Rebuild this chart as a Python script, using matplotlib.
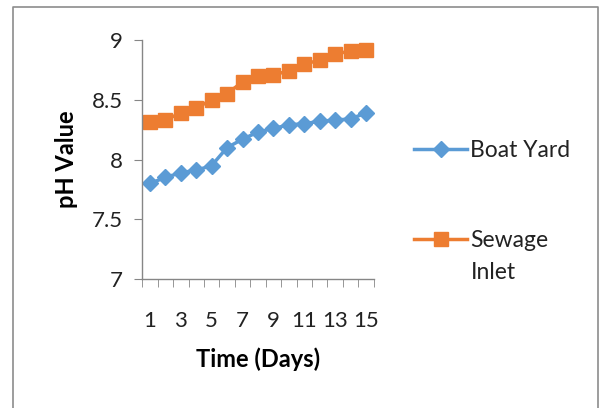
import numpy as np
import matplotlib.pyplot as plt
from matplotlib.lines import Line2D

# data
days = list(range(1, 16))
boat_yard = [7.80, 7.85, 7.89, 7.91, 7.95, 8.10, 8.17, 8.23, 8.26, 8.29,
             8.30, 8.32, 8.33, 8.34, 8.39]
sewage_inlet = [8.31, 8.33, 8.39, 8.43, 8.50, 8.55, 8.65, 8.70, 8.71, 8.74,
                8.80, 8.83, 8.88, 8.91, 8.92]
series_names = ["Boat Yard", "Sewage", "Inlet"]
yticks = [7, 7.5, 8, 8.5, 9]
ytick_labels = ["7", "7.5", "8", "8.5", "9"]

plt.rcParams['font.family'] = ['Lato', 'DejaVu Sans']

fig = plt.figure(figsize=(6, 4.08), dpi=100)
ax = fig.add_axes([0.237, 0.316, 0.386, 0.586])

blue = '#5B9BD5'
orange = '#ED7D31'
ax.plot(days, boat_yard, color=blue, lw=2.5, marker='D', ms=8.5,
        label=series_names[0])
ax.plot(days, sewage_inlet, color=orange, lw=2.5, marker='s', ms=9.5,
        label=series_names[1])

ax.set_xlim(0.5, 15.5)
ax.set_ylim(7, 9)
ax.set_yticks(yticks)
ax.set_yticklabels(ytick_labels)
ax.set_xticks(days)
ax.set_xticklabels([str(d) if d % 2 else "" for d in days])
ax.set_xticks(np.arange(0.5, 16, 1), minor=True)
ax.tick_params(axis='x', which='major', length=0, pad=23, labelsize=16,
               labelcolor='#222222')
ax.tick_params(axis='x', which='minor', length=6, color='#868686',
               direction='out')
ax.tick_params(axis='y', length=6, color='#868686', labelsize=16, pad=8,
               labelcolor='#222222')

for s in ['top', 'right']:
    ax.spines[s].set_visible(False)
for s in ['left', 'bottom']:
    ax.spines[s].set_color('#868686')
    ax.spines[s].set_linewidth(1.0)

ax.set_xlabel("Time (Days)", fontsize=17, fontweight='bold', labelpad=12)
ax.set_ylabel("pH Value", fontsize=17, fontweight='bold', labelpad=10)

leg = ax.legend(loc='upper left', bbox_to_anchor=(1.135, 0.62), frameon=False,
                fontsize=16.5, handlelength=2.3, handletextpad=0.15,
                labelspacing=3.0, borderaxespad=0)
for t in leg.get_texts():
    t.set_color('#222222')
# second line of the "Sewage Inlet" label
ax.annotate(series_names[2], xy=(0, 0), xycoords=leg.get_texts()[1],
            xytext=(0, -32), textcoords='offset pixels', fontsize=16.5,
            va='bottom', ha='left', color='#222222', zorder=10,
            annotation_clip=False)

# chart border
fig.add_artist(Line2D([0.022, 0.022, 0.997, 0.997], [0.0, 0.983, 0.983, 0.0],
                      color='#8c8c8c', lw=1.2, transform=fig.transFigure))

fig.savefig("out.png", dpi=100)
